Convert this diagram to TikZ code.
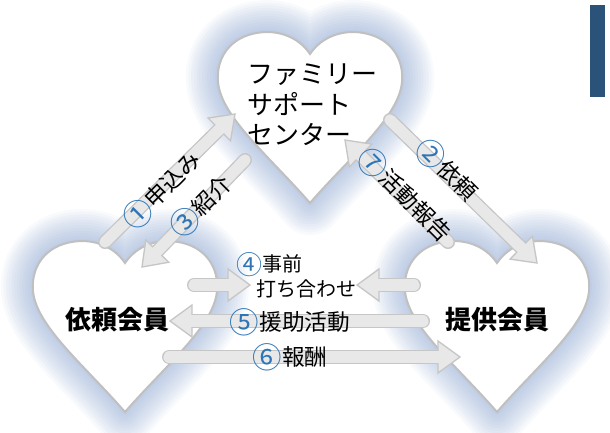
\documentclass[tikz,border=0pt]{standalone}
\usepackage{fontspec}
\setmainfont{Noto Sans CJK JP}
\usetikzlibrary{calc}

\definecolor{glowblue}{RGB}{120,150,200}
\definecolor{heartline}{RGB}{192,192,192}
\definecolor{arrowfill}{RGB}{232,232,232}
\definecolor{arrowline}{RGB}{198,198,198}
\definecolor{numblue}{RGB}{46,117,182}
\definecolor{barblue}{RGB}{43,82,121}

\newcommand{\maru}[1]{\raisebox{-0.12em}{\scalebox{1.3}{\textcolor{numblue}{#1}}}}

% heart outline, origin at the middle of its top
\def\heartpath{(0,22) .. controls (12,4) and (35,-4) .. (58,2) .. controls (82,8) and (94,28) .. (92,50) .. controls (89,85) and (40,125) .. (0,171) .. controls (-40,125) and (-89,85) .. (-92,50) .. controls (-94,28) and (-82,8) .. (-58,2) .. controls (-35,-4) and (-12,4) .. (0,22) -- cycle}

\newcommand{\glowheart}[1]{%
  \foreach \w in {48,44,...,4}
    \draw[glowblue, opacity=0.05, line width=\w pt, line join=round, shift={#1}] \heartpath;
  \draw[heartline, fill=white, line width=1.5pt, shift={#1}] \heartpath;
}

\newcommand{\fatarrow}[2]{%
  \coordinate (hb) at ($(#2)!16.5pt!(#1)$);
  \draw[arrowline, line width=10.5pt, line cap=round] (#1) -- (hb);
  \filldraw[fill=arrowfill, draw=arrowline, line width=1pt] ($(hb)!12pt!90:(#2)$) -- (#2) -- ($(hb)!12pt!-90:(#2)$) -- cycle;
  \draw[arrowfill, line width=8.5pt, line cap=round] (#1) -- ($(hb)!1.5pt!(#2)$);
}

\tikzset{
  label/.style={inner sep=0pt, font=\fontsize{17}{20}\selectfont},
  member/.style={inner sep=0pt, font=\fontsize{19.5}{23}\selectfont\bfseries}
}

\begin{document}
\begin{tikzpicture}[x=0.75pt,y=0.75pt,yscale=-1,xscale=1]
\useasboundingbox (0,0) rectangle (610,432);

%Shape: Hearts
\glowheart{(310,32)}
\glowheart{(125,241)}
\glowheart{(497,241)}

%Shape: Bar
\fill[barblue] (590,5) rectangle (605,97);

% Arrow ends
\coordinate (moushikomiS) at (105,242);
\coordinate (moushikomiE) at (235,114);
\coordinate (shoukaiS) at (245,160);
\coordinate (shoukaiE) at (142,267);
\coordinate (iraiS) at (390,120);
\coordinate (iraiE) at (537,263);
\coordinate (houkokuS) at (448,242);
\coordinate (houkokuE) at (345,140);
\coordinate (uchiawaseLS) at (194,285);
\coordinate (uchiawaseLE) at (250,285);
\coordinate (uchiawaseRS) at (414,285);
\coordinate (uchiawaseRE) at (357,285);
\coordinate (enjoS) at (423,321);
\coordinate (enjoE) at (170,321);
\coordinate (houshuuS) at (169,357);
\coordinate (houshuuE) at (460,357);

%Shape: Arrows
\fatarrow{moushikomiS}{moushikomiE}
\fatarrow{shoukaiS}{shoukaiE}
\fatarrow{iraiS}{iraiE}
\fatarrow{houkokuS}{houkokuE}
\fatarrow{uchiawaseLS}{uchiawaseLE}
\fatarrow{uchiawaseRS}{uchiawaseRE}
\fatarrow{enjoS}{enjoE}
\fatarrow{houshuuS}{houshuuE}

% Text Node
\node[inner sep=0pt, align=left, font=\fontsize{19.5}{23}\selectfont] (center) at (312,105) {ファミリー\\サポート\\センター};
% Text Node
\node[member] (irai) at (117,320) {依頼会員};
% Text Node
\node[member] (teikyou) at (497,320) {提供会員};
% Text Node
\node[label, rotate=45] (l1) at (162,190) {\maru{①}申込み};
% Text Node
\node[label, rotate=45] (l3) at (201,206) {\maru{③}紹介};
% Text Node
\node[label, rotate=-45] (l2) at (447,170) {\maru{②}依頼};
% Text Node
\node[label, rotate=-45] (l7) at (405,195) {\maru{⑦}活動報告};
% Text Node
\node[inner sep=0pt, align=left, anchor=west, font=\fontsize{15}{18.5}\selectfont] (l4) at (236,275) {\maru{④}事前\\\hspace*{1em}打ち合わせ};
% Text Node
\node[label] (l5) at (290,322) {\maru{⑤}援助活動};
% Text Node
\node[label] (l6) at (290,357) {\maru{⑥}報酬};

\end{tikzpicture}
\end{document}
